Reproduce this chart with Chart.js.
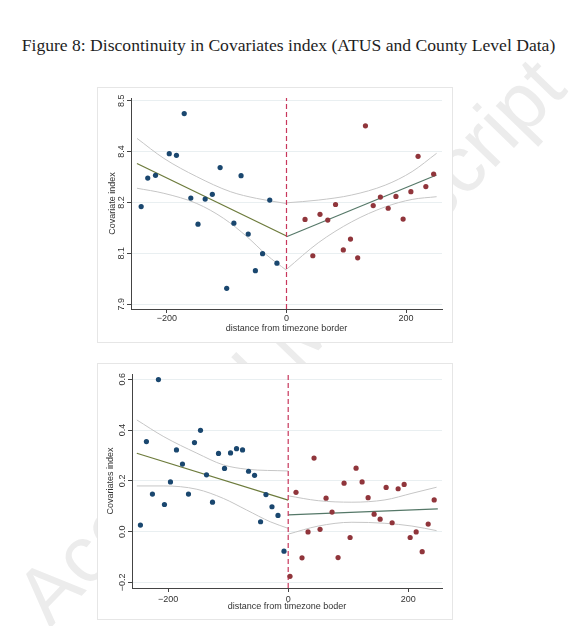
<!DOCTYPE html>
<html>
<head>
<meta charset="utf-8">
<script src="https://cdn.jsdelivr.net/npm/chart.js@4.4.0/dist/chart.umd.min.js"></script>
<style>
  body { margin: 0; background: #fff; width: 577px; height: 626px; overflow: hidden; position: relative; }
  #title { position: absolute; left: 0; width: 577px; top: 35px; text-align: center;
           font-family: 'Liberation Serif', 'Times New Roman', serif; font-size: 17.6px; color: #1e1e1e; white-space: nowrap; }
  #wm { position: absolute; left: -120px; top: 295px; width: 820px; text-align: center; transform: rotate(-46deg);
        font-family: 'Liberation Sans', Arial, sans-serif; font-size: 80px; color: #ececec; white-space: nowrap; }
  .panel { position: absolute; left: 97px; width: 356px; border: 1px solid #e6e6e6; box-sizing: border-box; background: #fff; }
  canvas { position: absolute; left: 97px; }
</style>
</head>
<body>
<div id="wm">Accepted Manuscript</div>
<div id="title">Figure 8: Discontinuity in Covariates index (ATUS and County Level Data)</div>
<div class="panel" style="top:87px;height:256px"></div>
<div class="panel" style="top:363px;height:257px"></div>
<canvas id="top" width="356" height="256" style="top:87px"></canvas>
<canvas id="bottom" width="356" height="257" style="top:363px"></canvas>
<script>
// ---- top panel (ATUS) ----
const topLeftX = [-243, -232, -219, -196, -184, -171, -160, -148, -136, -124, -111, -100, -88, -76, -64, -52, -40, -28, -16];
const topLeftY = [8.188, 8.272, 8.280, 8.344, 8.339, 8.462, 8.213, 8.136, 8.210, 8.224, 8.303, 7.947, 8.139, 8.279, 8.107, 7.999, 8.049, 8.207, 8.021];
const topRightX = [31, 44, 56, 69, 82, 95, 107, 119, 132, 145, 157, 170, 183, 195, 208, 220, 233, 246];
const topRightY = [8.150, 8.043, 8.165, 8.148, 8.194, 8.060, 8.092, 8.037, 8.426, 8.191, 8.216, 8.183, 8.218, 8.151, 8.232, 8.336, 8.247, 8.284];
const topFitLeftX = [-250, 0], topFitLeftY = [8.315, 8.101];
const topFitRightX = [0, 251], topFitRightY = [8.099, 8.281];
const topCiLeftUpX = [-250, -205, -150, -94, -50, 0];
const topCiLeftUpY = [8.389, 8.330, 8.276, 8.232, 8.212, 8.197];
const topCiLeftLoX = [-250, -205, -150, -105, -66, -33, 0];
const topCiLeftLoY = [8.242, 8.227, 8.197, 8.153, 8.099, 8.045, 8.000];
const topCiRightX = [0, 53, 109, 165, 210, 251];
const topCiRightUpY = [8.199, 8.207, 8.222, 8.251, 8.291, 8.345];
const topCiRightLoY = [8.003, 8.081, 8.143, 8.187, 8.209, 8.217];
const topYTicks = [7.9, 8.05, 8.2, 8.35, 8.5];
const topYTickLabels = ['7.9', '8.1', '8.2', '8.4', '8.5'];

// ---- bottom panel (county level) ----
const botLeftX = [-246, -236, -226, -216, -206, -196, -186, -176, -166, -156, -146, -136, -126, -116, -106, -96, -86, -76, -66, -56, -46, -37, -27, -17, -7];
const botLeftY = [0.026, 0.355, 0.148, 0.599, 0.107, 0.196, 0.322, 0.266, 0.148, 0.351, 0.399, 0.224, 0.116, 0.308, 0.249, 0.310, 0.327, 0.322, 0.238, 0.222, 0.039, 0.146, 0.098, 0.064, -0.077];
const botRightX = [3, 13, 23, 33, 43, 53, 63, 73, 83, 93, 103, 113, 123, 133, 143, 153, 163, 173, 183, 193, 203, 213, 223, 233, 243];
const botRightY = [-0.176, 0.155, -0.103, -0.001, 0.290, 0.009, 0.132, 0.077, -0.102, 0.191, -0.023, 0.250, 0.196, 0.134, 0.069, 0.049, 0.174, 0.035, 0.169, 0.186, -0.023, -0.001, -0.079, 0.030, 0.125];
const botFitLeftX = [-252, 0], botFitLeftY = [0.309, 0.124];
const botFitRightX = [0, 249], botFitRightY = [0.066, 0.090];
const botCiLeftUpX = [-252, -207, -152, -108, -69, 0];
const botCiLeftUpY = [0.440, 0.374, 0.309, 0.263, 0.246, 0.239];
const botCiLeftLoX = [-252, -207, -152, -108, -69, -30, 0];
const botCiLeftLoY = [0.180, 0.180, 0.167, 0.131, 0.085, 0.039, 0.013];
const botCiRightX = [0, 50, 106, 161, 206, 247];
const botCiRightUpY = [0.141, 0.122, 0.116, 0.125, 0.151, 0.175];
const botCiRightLoY = [-0.010, 0.022, 0.037, 0.033, 0.022, 0.004];
const botYTicks = [-0.2, 0, 0.2, 0.4, 0.6];
const botYTickLabels = ['\u22120.2', '0.0', '0.2', '0.4', '0.6'];

const xTicks = [-200, 0, 200];
const xTickLabels = ['\u2212200', '0', '200'];

const pts = (xs, ys) => xs.map((x, i) => ({ x: x, y: ys[i] }));
const FONT = "'Liberation Sans', Arial, sans-serif";

function makeChart(id, c) {
  const ciLine = (xs, ys) => ({ data: pts(xs, ys), showLine: true, pointRadius: 0, borderColor: '#c6c6c6',
                                borderWidth: 1, cubicInterpolationMode: 'monotone' });
  return new Chart(document.getElementById(id), {
    type: 'scatter',
    data: {
      datasets: [
        { data: pts(c.leftX, c.leftY), pointRadius: 2.6, pointBackgroundColor: '#1a476f', pointBorderWidth: 0 },
        { data: pts(c.rightX, c.rightY), pointRadius: 2.6, pointBackgroundColor: '#90353b', pointBorderWidth: 0 },
        { data: [{ x: 0, y: c.yMin }, { x: 0, y: c.yMax }], showLine: true, pointRadius: 0,
          borderColor: '#c8375c', borderWidth: 1.2, borderDash: [5, 3] },
        { data: pts(c.fitLX, c.fitLY), showLine: true, pointRadius: 0, borderColor: '#6d7b3c', borderWidth: 1.2 },
        { data: pts(c.fitRX, c.fitRY), showLine: true, pointRadius: 0, borderColor: '#557868', borderWidth: 1.2 },
        ciLine(c.ciLUX, c.ciLUY), ciLine(c.ciLLX, c.ciLLY),
        ciLine(c.ciRX, c.ciRUY), ciLine(c.ciRX, c.ciRLY)
      ]
    },
    options: {
      responsive: false,
      animation: false,
      devicePixelRatio: 1,
      layout: { padding: { top: c.padTop, right: c.padRight, left: 0, bottom: 0 } },
      plugins: { legend: { display: false }, tooltip: { enabled: false } },
      scales: {
        x: {
          min: c.xMin, max: c.xMax,
          afterBuildTicks: s => { s.ticks = xTicks.map(v => ({ value: v })); },
          afterFit: s => { s.height = c.xAxisH; },
          ticks: { callback: (v, i) => xTickLabels[i], color: '#333', font: { family: FONT, size: 9 }, padding: c.xTickPad, maxRotation: 0 },
          grid: { drawOnChartArea: false, drawTicks: true, tickLength: 4, tickColor: '#444', tickWidth: 1 },
          border: { display: true, color: '#444', width: 1 },
          title: { display: true, text: c.xTitle, color: '#333', font: { family: FONT, size: 9 }, padding: { top: 0, bottom: c.xTitlePad } }
        },
        y: {
          min: c.yMin, max: c.yMax,
          afterBuildTicks: s => { s.ticks = c.yTicks.map(v => ({ value: v })); },
          afterFit: s => { s.width = c.yAxisW; },
          ticks: { callback: (v, i) => c.yTickLabels[i], color: '#333', font: { family: FONT, size: 9 },
                   minRotation: 90, maxRotation: 90, crossAlign: 'center', padding: c.yTickPad },
          grid: { color: '#e9eff1', lineWidth: 1, drawTicks: true, tickLength: 4, tickColor: '#444' },
          border: { display: true, color: '#444', width: 1 },
          title: { display: true, text: c.yTitle, color: '#333', font: { family: FONT, size: 9 }, padding: { top: c.yTitlePad, bottom: 0 } }
        }
      }
    }
  });
}

makeChart('top', {
  leftX: topLeftX, leftY: topLeftY, rightX: topRightX, rightY: topRightY,
  fitLX: topFitLeftX, fitLY: topFitLeftY, fitRX: topFitRightX, fitRY: topFitRightY,
  ciLUX: topCiLeftUpX, ciLUY: topCiLeftUpY, ciLLX: topCiLeftLoX, ciLLY: topCiLeftLoY,
  ciRX: topCiRightX, ciRUY: topCiRightUpY, ciRLY: topCiRightLoY,
  xMin: -260, xMax: 260, yMin: 7.886, yMax: 8.508,
  yTicks: topYTicks, yTickLabels: topYTickLabels,
  xTitle: 'distance from timezone border', yTitle: 'Covariate index',
  padTop: 11, padRight: 11, xAxisH: 34, yAxisW: 34,
  xTickPad: 0, xTitlePad: 8.6, yTickPad: -1, yTitlePad: 10.6
});

makeChart('bottom', {
  leftX: botLeftX, leftY: botLeftY, rightX: botRightX, rightY: botRightY,
  fitLX: botFitLeftX, fitLY: botFitLeftY, fitRX: botFitRightX, fitRY: botFitRightY,
  ciLUX: botCiLeftUpX, ciLUY: botCiLeftUpY, ciLLX: botCiLeftLoX, ciLLY: botCiLeftLoY,
  ciRX: botCiRightX, ciRUY: botCiRightUpY, ciRLY: botCiRightLoY,
  xMin: -260, xMax: 256, yMin: -0.222, yMax: 0.621,
  yTicks: botYTicks, yTickLabels: botYTickLabels,
  xTitle: 'distance from timezone boder', yTitle: 'Covariates index',
  padTop: 11, padRight: 11, xAxisH: 32, yAxisW: 35,
  xTickPad: 1.7, xTitlePad: 7.6, yTickPad: -2.9, yTitlePad: 8
});
</script>
</body>
</html>
